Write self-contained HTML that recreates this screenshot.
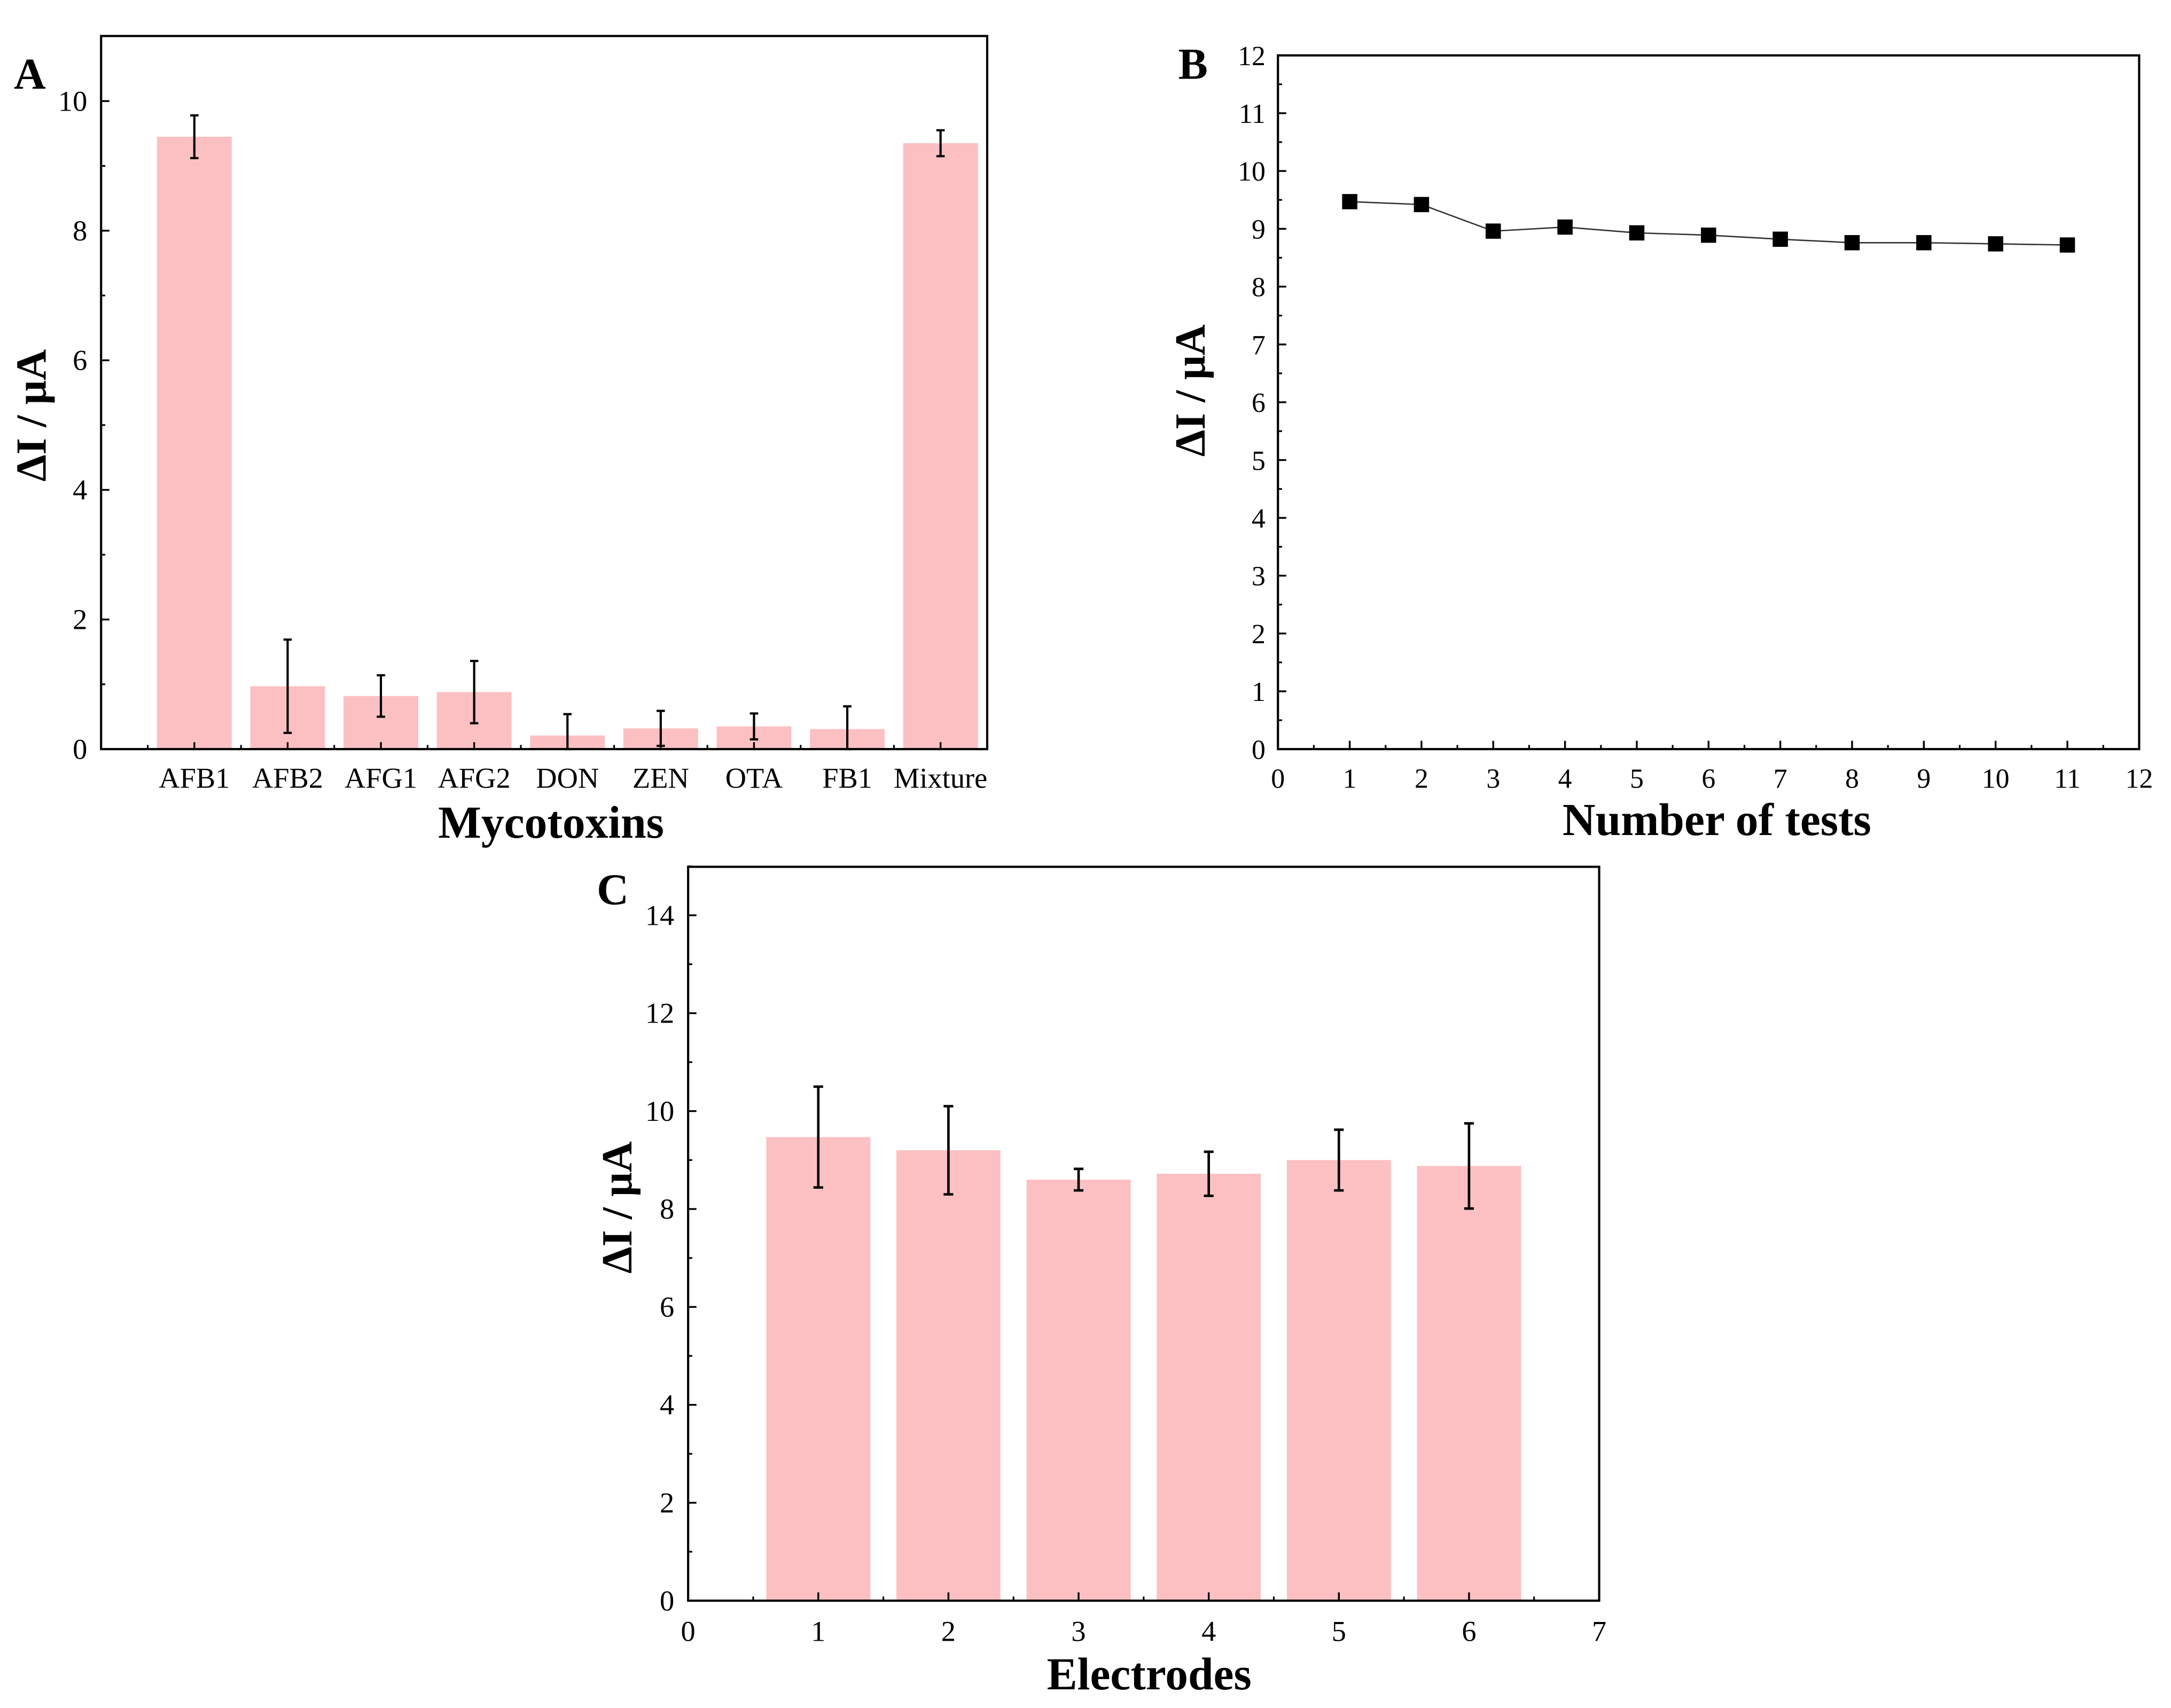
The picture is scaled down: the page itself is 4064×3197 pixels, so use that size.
<!DOCTYPE html>
<html><head><meta charset="utf-8"><style>html,body{margin:0;padding:0;background:#fff}svg{display:block}</style></head>
<body>
<svg id="fig" width="4064" height="3197" viewBox="0 0 1568 1233.5" xmlns="http://www.w3.org/2000/svg" font-family="'Liberation Serif', serif"></svg>
<script>
const catsA=["AFB1","AFB2","AFG1","AFG2","DON","ZEN","OTA","FB1","Mixture"];
const valsA=[9.45,0.97,0.82,0.88,0.21,0.32,0.35,0.31,9.35];
const errA=[0.33,0.72,0.32,0.48,0.33,0.27,0.2,0.35,0.2];
const ticksA=[0,2,4,6,8,10];
const xB=[1,2,3,4,5,6,7,8,9,10,11];
const valsB=[9.47,9.42,8.96,9.03,8.93,8.89,8.82,8.76,8.76,8.74,8.72];
const ticksB=[0,1,2,3,4,5,6,7,8,9,10,11,12];
const catsC=[1,2,3,4,5,6];
const valsC=[9.47,9.2,8.6,8.72,9.0,8.88];
const errC=[1.03,0.9,0.22,0.45,0.62,0.87];
const ticksCy=[0,2,4,6,8,10,12,14];
const ticksCx=[0,1,2,3,4,5,6,7];

const svg=document.getElementById('fig');
const NS="http://www.w3.org/2000/svg";
function el(tag,attrs,parent,text){const e=document.createElementNS(NS,tag);for(const k in attrs)e.setAttribute(k,attrs[k]);if(text!==undefined)e.textContent=text;(parent||svg).appendChild(e);return e;}
function lin(d0,d1,r0,r1){return v=>r0+(v-d0)*(r1-r0)/(d1-d0);}
const PINK="#fdc0c2";
const TF=21, TITLEF=33;

function axesBox(g,L,R,T,B){
  const r=el('rect',{x:L,y:T,width:R-L,height:B-T,fill:'none',stroke:'#000','stroke-width':1.6},g);
  
  
}
function yTitle(g,x,y,name){
  const t=el('text',{x:x,y:y,transform:`rotate(-90 ${x} ${y})`,'text-anchor':'middle','font-size':31,'font-weight':'bold'},g,'ΔI / μA');
  
  
}

// ---- Panel A ----
{
  const g=el('g',{});
  const L=73,R=713,T=26,B=541;
  const x=lin(0,9.5,L,R), y=lin(0,10,B,73);
  catsA.forEach((c,i)=>{
    const cx=x(i+1), w=54;
    const b=el('rect',{x:cx-w/2,y:y(valsA[i]),width:w,height:B-y(valsA[i]),fill:PINK},g);
    
    
    const e=errA[i], top=y(valsA[i]+e), bot=y(Math.max(0,valsA[i]-e));
    const eb=el('path',{d:`M${cx},${top}V${bot}M${cx-3},${top}H${cx+3}M${cx-3},${bot}H${cx+3}`,stroke:'#000','stroke-width':1.6,fill:'none'},g);
    
    
    const t=el('text',{x:cx,y:569,'text-anchor':'middle','font-size':TF},g,c);
    
    
    el('line',{x1:cx,x2:cx,y1:B,y2:B-5,stroke:'#000','stroke-width':1.3},g);
    el('line',{x1:cx+33.7,x2:cx+33.7,y1:B,y2:B-3,stroke:'#000','stroke-width':1.2},g);
  });
  el('line',{x1:x(0.5),x2:x(0.5),y1:B,y2:B-3,stroke:'#000','stroke-width':1.2},g);
  ticksA.forEach(v=>{
    el('line',{x1:L,x2:L+6,y1:y(v),y2:y(v),stroke:'#000','stroke-width':1.3},g);
    if(v<10) el('line',{x1:L,x2:L+3,y1:y(v+1),y2:y(v+1),stroke:'#000','stroke-width':1.2},g);
    const t=el('text',{x:L-10,y:y(v)+7,'text-anchor':'end','font-size':TF},g,String(v));
    
    
  });
  axesBox(g,L,R,T,B);
  const xt=el('text',{x:398,y:605,'text-anchor':'middle','font-size':TITLEF,'font-weight':'bold'},g,'Mycotoxins');
  
  yTitle(g,33,300,'y-axis-title');
  const p=el('text',{x:10,y:64,'font-size':32,'font-weight':'bold'},g,'A');
  
}

// ---- Panel B ----
{
  const g=el('g',{});
  const L=923,R=1545,T=40,B=541;
  const x=lin(0,12,L,R), y=lin(0,12,B,T);
  ticksB.forEach(v=>{
    el('line',{x1:L,x2:L+6,y1:y(v),y2:y(v),stroke:'#000','stroke-width':1.3},g);
    if(v<12) el('line',{x1:L,x2:L+3,y1:y(v+0.5),y2:y(v+0.5),stroke:'#000','stroke-width':1.2},g);
    const t=el('text',{x:L-9,y:y(v)+7,'text-anchor':'end','font-size':20},g,String(v));
    
    el('line',{x1:x(v),x2:x(v),y1:B,y2:B-6,stroke:'#000','stroke-width':1.3},g);
    if(v<12) el('line',{x1:x(v+0.5),x2:x(v+0.5),y1:B,y2:B-3,stroke:'#000','stroke-width':1.2},g);
    const tx=el('text',{x:x(v),y:569,'text-anchor':'middle','font-size':20},g,String(v));
    
  });
  const ln=el('polyline',{points:xB.map((v,i)=>x(v)+','+y(valsB[i])).join(' '),fill:'none',stroke:'#333','stroke-width':1},g);
  
  xB.forEach((v,i)=>{
    const m=el('rect',{x:x(v)-5.5,y:y(valsB[i])-5.5,width:11,height:11,fill:'#000'},g);
    
  });
  axesBox(g,L,R,T,B);
  const xt=el('text',{x:1240,y:603,'text-anchor':'middle','font-size':TITLEF,'font-weight':'bold'},g,'Number of tests');
  
  yTitle(g,870,282,'y-axis-title');
  const p=el('text',{x:851,y:57,'font-size':32,'font-weight':'bold'},g,'B');
  
}

// ---- Panel C ----
{
  const g=el('g',{});
  const L=497,R=1155,T=626,B=1156;
  const x=lin(0,7,L,R), y=lin(0,14,B,661);
  catsC.forEach((c,i)=>{
    const cx=x(c), w=x(0.8)-x(0);
    const b=el('rect',{x:cx-w/2,y:y(valsC[i]),width:w,height:B-y(valsC[i]),fill:PINK},g);
    
    const top=y(valsC[i]+errC[i]), bot=y(valsC[i]-errC[i]);
    const eb=el('path',{d:`M${cx},${top}V${bot}M${cx-3.5},${top}H${cx+3.5}M${cx-3.5},${bot}H${cx+3.5}`,stroke:'#000','stroke-width':1.8,fill:'none'},g);
    
  });
  ticksCx.forEach(v=>{
    el('line',{x1:x(v),x2:x(v),y1:B,y2:B-6,stroke:'#000','stroke-width':1.3},g);
    if(v<7) el('line',{x1:x(v+0.5),x2:x(v+0.5),y1:B,y2:B-3,stroke:'#000','stroke-width':1.2},g);
    const t=el('text',{x:x(v),y:1185,'text-anchor':'middle','font-size':TF},g,String(v));
    
  });
  ticksCy.forEach(v=>{
    el('line',{x1:L,x2:L+6,y1:y(v),y2:y(v),stroke:'#000','stroke-width':1.3},g);
    el('line',{x1:L,x2:L+3,y1:y(v+1),y2:y(v+1),stroke:'#000','stroke-width':1.2},g);
    const t=el('text',{x:L-10,y:y(v)+7,'text-anchor':'end','font-size':TF},g,String(v));
    
  });
  axesBox(g,L,R,T,B);
  const xt=el('text',{x:830,y:1220,'text-anchor':'middle','font-size':TITLEF,'font-weight':'bold'},g,'Electrodes');
  
  yTitle(g,456,872,'y-axis-title');
  const p=el('text',{x:431,y:653,'font-size':32,'font-weight':'bold'},g,'C');
  
}
</script>
</body></html>
